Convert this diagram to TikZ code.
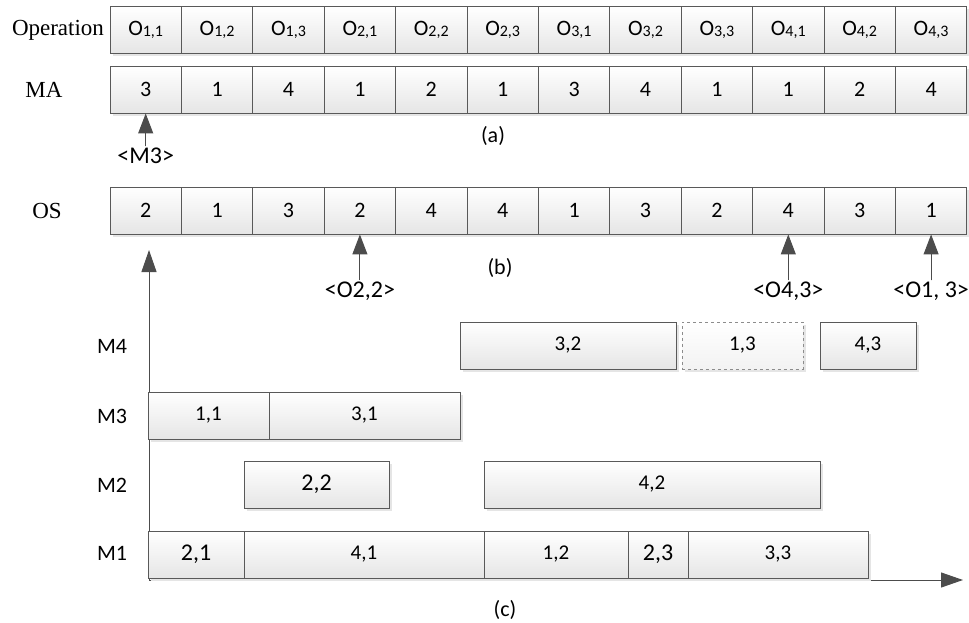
\documentclass[tikz,border=0pt]{standalone}
\usepackage{fontspec}
\setmainfont{Liberation Serif}
\setsansfont{Carlito}
\usetikzlibrary{shadows, positioning, arrows.meta}

\newcommand{\opsub}[1]{O\raisebox{-1bp}{\fontsize{16bp}{16bp}\selectfont #1}}

\begin{document}
\begin{tikzpicture}[
        x=1bp, y=-1bp,
        cell/.style={rectangle, draw=black!65, line width=0.9bp, top color=white, bottom color=black!10, minimum width=71.4bp, minimum height=47bp, inner sep=0pt, font=\sffamily\fontsize{22bp}{22bp}\selectfont, drop shadow={shadow xshift=3bp, shadow yshift=-3bp, fill=black!10, opacity=1}},
        job/.style={cell, minimum width=#1},
        rowlbl/.style={font=\rmfamily\fontsize{23bp}{23bp}\selectfont, inner sep=1bp},
        mlbl/.style={font=\sffamily\fontsize{22bp}{22bp}\selectfont, inner sep=1bp},
        ptrlbl/.style={font=\sffamily\fontsize{24bp}{24bp}\selectfont, inner sep=1bp},
        caption/.style={font=\sffamily\fontsize{22bp}{22bp}\selectfont},
        ptr/.style={-{Triangle[length=20bp, width=15bp]}, draw=black!70, fill=black!70, line width=1bp},
        axis/.style={-{Triangle[length=22bp, width=15bp]}, draw=black!70, fill=black!70, line width=1bp}
    ]
    \useasboundingbox (0,0) rectangle (969,623);
%
    % Chromosome rows
    \node[rowlbl] (oplbl) at (58,30) {Operation};
    \node[rowlbl] (malbl) at (44,89.5) {MA};
    \node[rowlbl] (oslbl) at (47,210.5) {OS};
    \foreach \j/\k [count=\i] in {1/1,1/2,1/3,2/1,2/2,2/3,3/1,3/2,3/3,4/1,4/2,4/3}
        \node[cell] (op\i) at ({110+71.4*(\i-0.5)},30) {\opsub{\j,\k}};
    \foreach \v [count=\i] in {3,1,4,1,2,1,3,4,1,1,2,4}
        \node[cell] (ma\i) at ({110+71.4*(\i-0.5)},89.5) {\v};
    \foreach \v [count=\i] in {2,1,3,2,4,4,1,3,2,4,3,1}
        \node[cell] (os\i) at ({110+71.4*(\i-0.5)},210.5) {\v};
%
    % Pointers
    \node[ptrlbl, below=33bp of ma1] (m3lbl) {<M3>};
    \node[ptrlbl, below=46bp of os4] (o22lbl) {<O2,2>};
    \node[ptrlbl, below=46bp of os10] (o43lbl) {<O4,3>};
    \node[ptrlbl, below=46bp of os12] (o13lbl) {<O1, 3>};
    \draw[ptr] (m3lbl) -- (ma1);
    \draw[ptr] (o22lbl) -- (os4);
    \draw[ptr] (o43lbl) -- (os10);
    \draw[ptr] (o13lbl) -- (os12);
%
    \node[caption] (capa) at (493,136) {(a)};
    \node[caption] (capb) at (500,268) {(b)};
    \node[caption] (capc) at (505,610) {(c)};
%
    % Gantt chart
    \coordinate (orig) at (149,580);
    \coordinate (ytip) at (149,250);
    \coordinate (xtip) at (963,580);
    \draw[axis] (orig) -- (ytip);
    \draw[axis] (orig) -- (xtip);
%
    \node[mlbl] (m4) at (112,346) {M4};
    \node[mlbl] (m3) at (112,416) {M3};
    \node[mlbl] (m2) at (112,485) {M2};
    \node[mlbl] (m1) at (112,553) {M1};
%
    \foreach \a/\b/\s/\e/\yy/\fs in {3/2/460/676/345.5/21, 4/3/820/916/345.5/21,
            1/1/148/269/415.5/21, 3/1/269/460/415.5/21,
            2/2/244/389/484.5/24, 4/2/484/820/484.5/21,
            2/1/148/244/554.5/24, 4/1/244/484/554.5/21, 1/2/484/628/554.5/21,
            2/3/628/688/554.5/24, 3/3/688/868/554.5/21}
        \node[job={(\e-\s)*1bp}, font=\sffamily\fontsize{\fs bp}{\fs bp}\selectfont] (j\a\b) at ({(\s+\e)/2},\yy) {\a,\b};
    \node[job=121bp, font=\sffamily\fontsize{21bp}{21bp}\selectfont, dashed, draw=black!45, top color=white, bottom color=black!5] (j13) at (742.5,345.5) {1,3};
%
    \end{tikzpicture}
\end{document}
